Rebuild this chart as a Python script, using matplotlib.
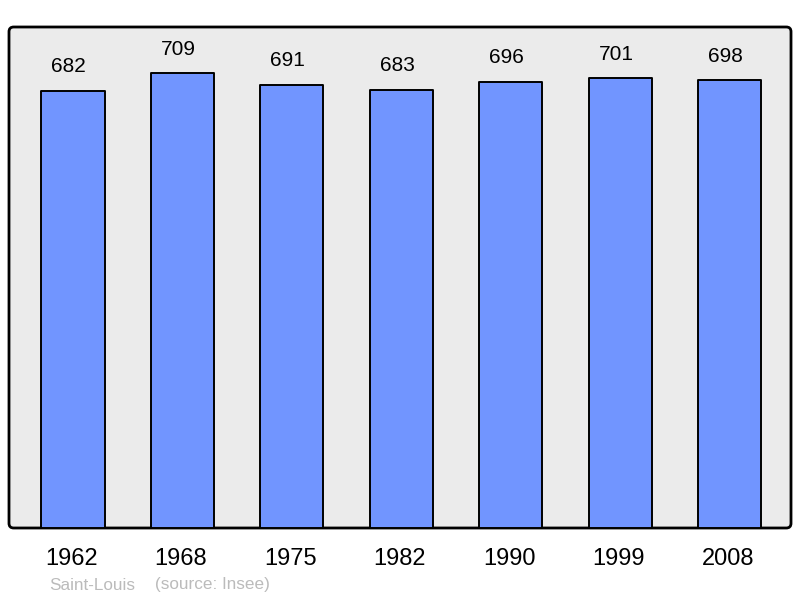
import matplotlib
matplotlib.use("Agg")
import matplotlib.pyplot as plt
from matplotlib.patches import FancyBboxPatch
from matplotlib.transforms import ScaledTranslation

years = ["1962", "1968", "1975", "1982", "1990", "1999", "2008"]
population = [682, 709, 691, 683, 696, 701, 698]
place = "Saint-Louis"
source = "(source: Insee)"

plt.rcParams['font.family'] = ['Liberation Sans', 'DejaVu Sans']

W, H = 800, 598
fig = plt.figure(figsize=(W / 100, H / 100), dpi=100)
L, R, T, B = 9, 791, 27, 528
ax = fig.add_axes([L / W, (H - B) / H, (R - L) / W, (B - T) / H])
ax.set_facecolor("none")
for s in ax.spines.values():
    s.set_visible(False)

panel = FancyBboxPatch((0, 0), 1, 1, boxstyle="round,pad=0,rounding_size=0.006",
                       mutation_aspect=(R - L) / (B - T),
                       transform=ax.transAxes, facecolor="#ebebeb",
                       edgecolor="black", linewidth=2, zorder=0, clip_on=False)
ax.add_patch(panel)

x = list(range(len(years)))
bars = ax.bar(x, population, width=0.576, color="#7195ff", edgecolor="black",
              linewidth=1.4, zorder=2)
for b in bars:
    b.set_joinstyle("round")

for xi, v in zip(x, population):
    ax.annotate(str(v), (xi, v), xytext=(-3, 10.5), textcoords="offset points",
                ha="center", va="bottom", fontsize=15, color="black")

ax.set_xlim(-0.585, 6.562)
ax.set_ylim(0, 781)
ax.set_xticks(x)
ax.set_xticklabels(years, fontsize=17)
ax.tick_params(axis="x", length=0, pad=14.5)
ax.set_yticks([])
for lbl in ax.get_xticklabels():
    lbl.set_transform(lbl.get_transform() + ScaledTranslation(-1.5 / 100, 0, fig.dpi_scale_trans))

fig.text(49 / W, 1 - 585 / H, place, fontsize=12.3, color="#bbbbbb", va="center", ha="left")
fig.text(155 / W, 1 - 585 / H, source, fontsize=12.3, color="#bbbbbb", va="center", ha="left")

fig.savefig("out.png", dpi=100)
